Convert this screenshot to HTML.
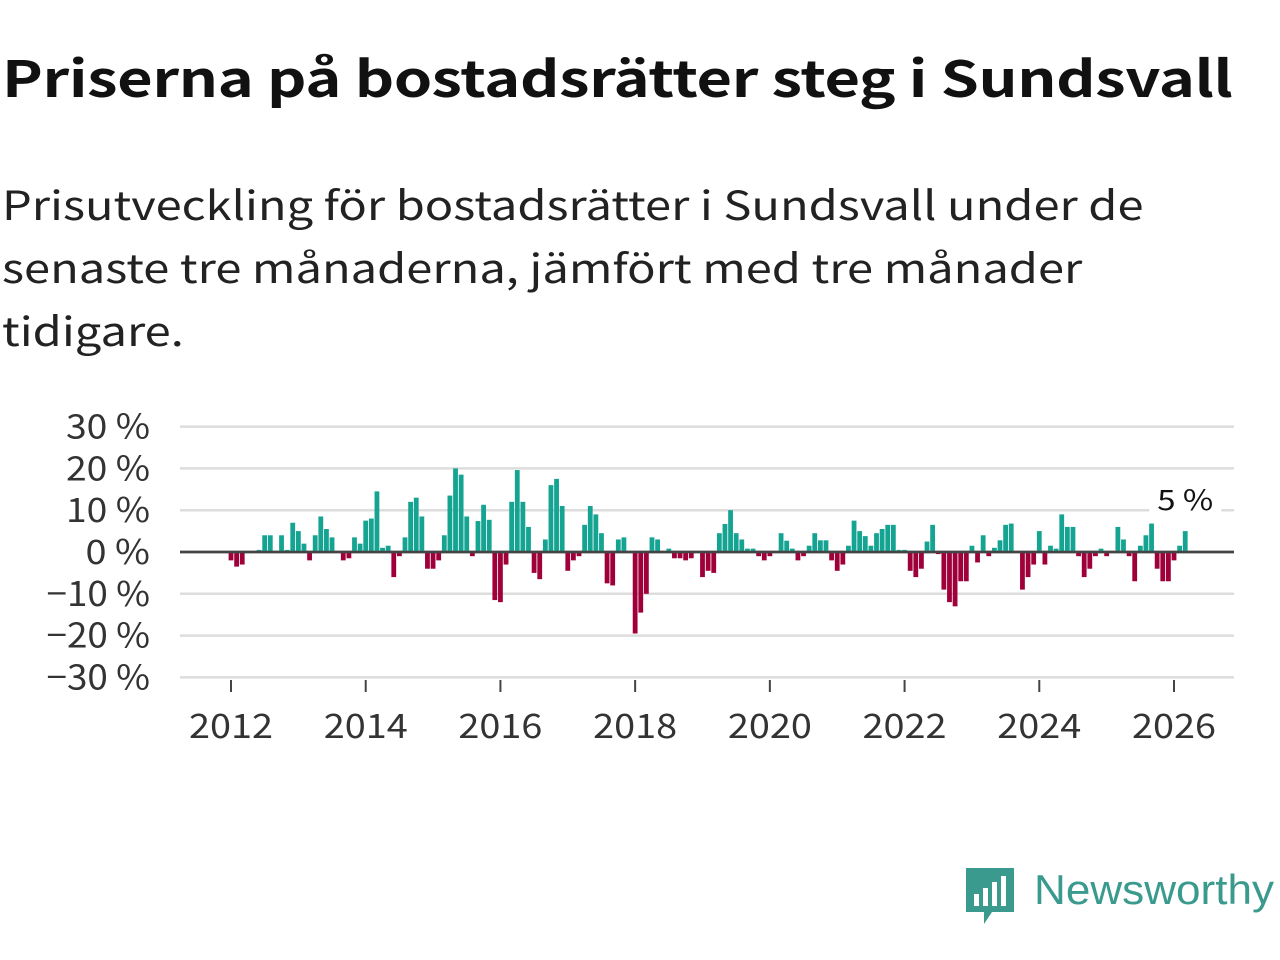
<!DOCTYPE html>
<html><head><meta charset="utf-8"><style>
body{margin:0;width:1280px;height:960px;background:#fff;overflow:hidden;font-family:"Noto Sans CJK SC","Liberation Sans",sans-serif;color:#111}
#title{position:absolute;left:2px;top:40px;font-size:50px;font-weight:700;margin:0;white-space:nowrap;letter-spacing:-0.3px;transform:scaleX(1.226);transform-origin:0 0}
#sub{position:absolute;left:2px;top:172px;font-size:40px;line-height:63px;margin:0;color:#222;white-space:nowrap;transform:scaleX(1.176);transform-origin:0 0}
svg{position:absolute;left:0;top:0}
</style></head><body>
<h1 id="title">Priserna på bostadsrätter steg i Sundsvall</h1>
<p id="sub">Prisutveckling för bostadsrätter i Sundsvall under de<br>senaste tre månaderna, jämfört med tre månader<br>tidigare.</p>
<svg id="chart" width="1280" height="960"></svg>
<script>
const values=[-2,-3.5,-3,0,0,0.5,4,4,0,4,0.5,7,
5,2,-2,4,8.5,5.5,3.5,0,-2,-1.5,3.5,2,
7.5,8,14.5,1,1.5,-6,-1,3.5,12,13,8.5,-4,
-4,-2,4,13.5,20,18.5,8.5,-1,7.4,11.3,7.7,-11.5,
-12,-3,12,19.6,12,6,-5,-6.5,3,16,17.5,11,
-4.5,-2,-1,6.5,11,9,4.5,-7.5,-8,3,3.5,0,
-19.5,-14.5,-10,3.5,3,0,0.8,-1.5,-1.5,-2,-1.5,0,
-6,-4.5,-5,4.5,6.7,10,4.5,3,0.8,0.8,-1,-2,
-1,0,4.5,2.7,0.8,-2,-1,1.5,4.5,2.8,2.8,-2,
-4.5,-3,1.5,7.5,5,3.8,1.5,4.5,5.5,6.5,6.5,0.5,
0.5,-4.5,-6,-4,2.5,6.5,-0.5,-9,-12,-13,-7,-7,
1.5,-2.5,4,-1,1,2.8,6.5,6.8,0,-9,-6,-3,
5,-3,1.5,0.8,9,6,6,-1,-6,-4,-1,0.8,
-1,0,6,3,-1,-7,1.5,4,6.8,-4,-7,-7,
-2,1.5,5];
const startYear=2012;
const yTicks=[30,20,10,0,-10,-20,-30];
const yTickLabels=["30 %","20 %","10 %","0 %","\u221210 %","\u221220 %","\u221230 %"];
const xTickYears=[2012,2014,2016,2018,2020,2022,2024,2026];
const lastLabel="5 %";
const NS="http://www.w3.org/2000/svg";
const svg=document.getElementById('chart');
const x=m=>231+m*(943/168);
const y=v=>552-v*4.18;
const FF='"Noto Sans CJK SC","Liberation Sans",sans-serif';
function el(t,a){const e=document.createElementNS(NS,t);for(const k in a)e.setAttribute(k,a[k]);svg.appendChild(e);return e;}
yTicks.forEach((t,i)=>{
 const g=el('line',{x1:180,x2:1234,y1:y(t),y2:y(t),stroke:t===0?'#444':'#ddd','stroke-width':2.5});
 
 
 const lab=yTickLabels[i];
 const w=lab.length*19.5+6;
 const l=el('text',{x:150,y:y(t)+12,'text-anchor':'end','font-size':34,fill:'#333','font-family':FF,textLength:w,lengthAdjust:'spacingAndGlyphs'});
 l.textContent=lab;
 
 
});
xTickYears.forEach(yr=>{
 const xx=x((yr-startYear)*12);
 const t=el('line',{x1:xx,x2:xx,y1:680,y2:692,stroke:'#444','stroke-width':2});
 
 
 const l=el('text',{x:xx,y:738,'text-anchor':'middle','font-size':34,fill:'#333','font-family':FF,textLength:84,lengthAdjust:'spacingAndGlyphs'});
 l.textContent=yr;
 
 
});
values.forEach((v,i)=>{
 const xx=x(i);
 const r=el('rect',{x:xx-2.4,width:4.8,y:Math.min(y(v),y(0)),height:Math.abs(y(v)-y(0)),fill:v>=0?'#15a392':'#a0003a'});
 
 
});
const z=el('line',{x1:180,x2:1234,y1:y(0),y2:y(0),stroke:'#444','stroke-width':2.5});


const li=values.length-1;
const bg=el('rect',{x:x(li)-36,y:480,width:72,height:34,fill:'#fff'});


const lv=el('text',{x:x(li),y:510,'text-anchor':'middle','font-size':28,fill:'#111','font-family':FF,textLength:56,lengthAdjust:'spacingAndGlyphs'});
lv.textContent=lastLabel;


</script>
<svg width="1280" height="960" style="pointer-events:none">
 <path d="M966 868 h48 v44 h-22 l-8 12 v-12 h-18 z" fill="#3a9a8e"/>
 <rect x="974" y="894" width="5" height="12" fill="#fff"/><rect x="983" y="888" width="5" height="18" fill="#fff"/><rect x="992" y="882" width="5" height="24" fill="#fff"/><rect x="1001" y="876" width="5" height="30" fill="#fff"/>
 <text x="1034" y="904" font-size="42" fill="#3a9a8e" font-family="'Liberation Sans',sans-serif" textLength="240" lengthAdjust="spacingAndGlyphs">Newsworthy</text>
</svg>
</body></html>
